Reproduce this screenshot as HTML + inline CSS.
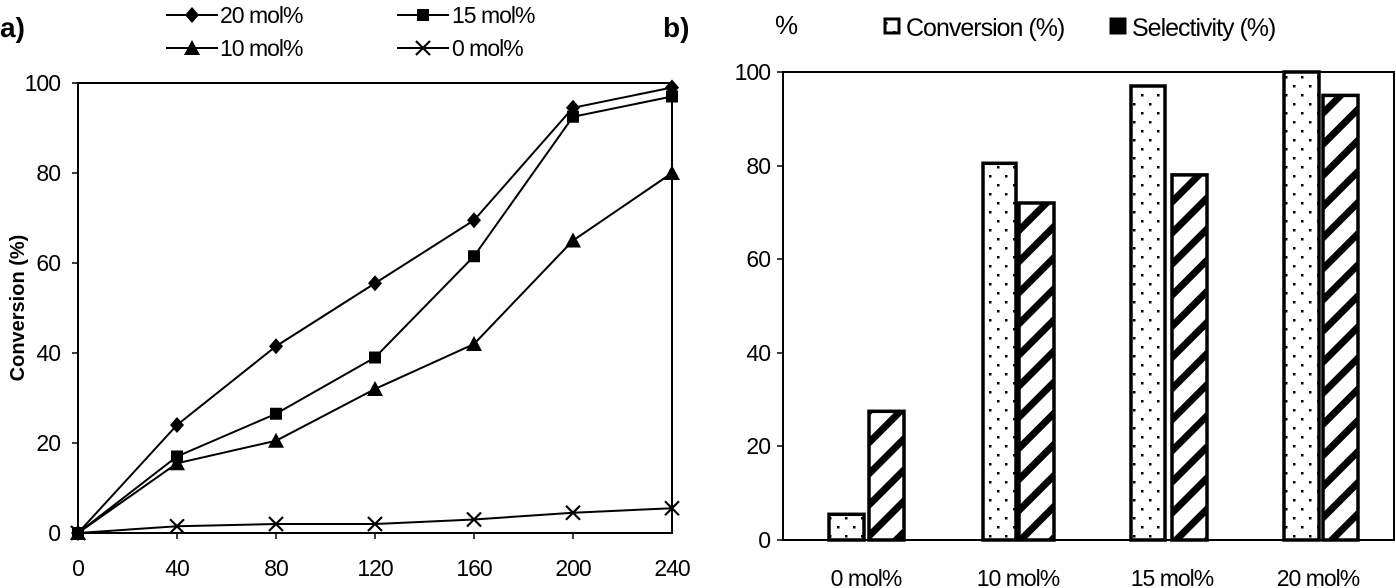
<!DOCTYPE html>
<html><head><meta charset="utf-8"><style>
html,body{margin:0;padding:0;background:#fff}
svg{display:block}
text{font-family:"Liberation Sans Narrow","Liberation Sans",sans-serif;font-size:23px;letter-spacing:-1px;fill:#000}
.b{font-family:"Liberation Sans",sans-serif;font-weight:bold;letter-spacing:0}
</style></head><body>
<svg width="1396" height="588" viewBox="0 0 1396 588" xmlns="http://www.w3.org/2000/svg">
<defs>
<pattern id="dots" width="16" height="18" patternUnits="userSpaceOnUse">
<rect x="5" y="4" width="2.5" height="2.5" fill="#000"/><rect x="13" y="13" width="2.5" height="2.5" fill="#000"/>
</pattern>
<pattern id="hatch" width="22" height="22" patternUnits="userSpaceOnUse" patternTransform="rotate(45)">
<rect x="0" y="0" width="7" height="22" fill="#000"/>
</pattern>
</defs>
<!-- Chart a -->
<text class="b" x="0" y="37" style="font-size:28px">a)</text>
<text class="b" x="663" y="37" style="font-size:28px">b)</text>
<g stroke="#000" stroke-width="2" fill="none">
<rect x="78" y="83" width="594" height="450"/>
</g>
<g stroke="#000" stroke-width="1.5">
<line x1="72" y1="83" x2="78" y2="83"/><line x1="72" y1="173" x2="78" y2="173"/><line x1="72" y1="263" x2="78" y2="263"/>
<line x1="72" y1="353" x2="78" y2="353"/><line x1="72" y1="443" x2="78" y2="443"/><line x1="72" y1="533" x2="78" y2="533"/>
<line x1="177" y1="533" x2="177" y2="539"/><line x1="276" y1="533" x2="276" y2="539"/><line x1="375" y1="533" x2="375" y2="539"/>
<line x1="474" y1="533" x2="474" y2="539"/><line x1="573" y1="533" x2="573" y2="539"/>
</g>
<g text-anchor="end">
<text x="60" y="91">100</text><text x="60" y="181">80</text><text x="60" y="271">60</text>
<text x="60" y="361">40</text><text x="60" y="451">20</text><text x="60" y="541">0</text>
</g>
<g text-anchor="middle">
<text x="78" y="576">0</text><text x="177" y="576">40</text><text x="276" y="576">80</text><text x="375" y="576">120</text>
<text x="474" y="576">160</text><text x="573" y="576">200</text><text x="672" y="576">240</text>
</g>
<text class="b" x="0" y="0" text-anchor="middle" transform="translate(24,308) rotate(-90)" style="font-size:20px">Conversion (%)</text>
<g stroke="#000" stroke-width="2" fill="none">
<polyline points="78,533 177,425 276,346.25 375,283.25 474,220.25 573,107.75 672,87.5"/>
<polyline points="78,533 177,456.5 276,413.75 375,357.5 474,256.25 573,116.75 672,96.5"/>
<polyline points="78,533 177,463.25 276,440.75 375,389 474,344 573,240.5 672,173"/>
<polyline points="78,533 177,526.25 276,524 375,524 474,519.5 573,512.75 672,508.25"/>
</g>
<g id="markers"></g>
<!-- legend a -->
<g stroke="#000" stroke-width="2">
<line x1="166" y1="15" x2="218" y2="15"/><line x1="397" y1="15" x2="449" y2="15"/>
<line x1="166" y1="48" x2="218" y2="48"/><line x1="397" y1="48" x2="449" y2="48"/>
</g>
<g id="legmk"></g>
<text x="220" y="23">20 mol%</text><text x="452" y="23">15 mol%</text>
<text x="220" y="56">10 mol%</text><text x="452" y="56">0 mol%</text>
<!-- Chart b -->
<text x="775" y="34" style="font-size:26px">%</text>
<rect x="885" y="19" width="14" height="14" fill="url(#dots)" stroke="#000" stroke-width="3"/>
<text x="906" y="36" style="font-size:25px">Conversion (%)</text>
<rect x="1111" y="19" width="14" height="14" fill="#000" stroke="#000" stroke-width="3"/>
<text x="1132" y="36" style="font-size:25px">Selectivity (%)</text>
<g stroke="#000" stroke-width="1.5">
<line x1="777" y1="72" x2="783" y2="72"/><line x1="777" y1="166" x2="783" y2="166"/><line x1="777" y1="259" x2="783" y2="259"/>
<line x1="777" y1="353" x2="783" y2="353"/><line x1="777" y1="446" x2="783" y2="446"/><line x1="777" y1="540" x2="783" y2="540"/>
</g>
<g text-anchor="end">
<text x="770" y="80">100</text><text x="770" y="174">80</text><text x="770" y="267">60</text>
<text x="770" y="361">40</text><text x="770" y="454">20</text><text x="770" y="548">0</text>
</g>
<g text-anchor="middle">
<text x="866" y="586">0 mol%</text><text x="1018" y="586">10 mol%</text><text x="1172" y="586">15 mol%</text><text x="1318" y="586">20 mol%</text>
</g>
<g stroke="#000" stroke-width="3.5">
<rect x="829" y="514.3" width="35" height="25.7" fill="url(#dots)"/>
<rect x="869" y="411.3" width="35" height="128.7" fill="url(#hatch)"/>
<rect x="983" y="163.3" width="33" height="376.7" fill="url(#dots)"/>
<rect x="1019" y="203" width="35" height="337" fill="url(#hatch)"/>
<rect x="1131" y="86" width="34" height="454" fill="url(#dots)"/>
<rect x="1172" y="174.9" width="35" height="365.1" fill="url(#hatch)"/>
<rect x="1284" y="72" width="35" height="468" fill="url(#dots)"/>
<rect x="1323" y="95.4" width="35" height="444.6" fill="url(#hatch)"/>
</g>
<g stroke="#000" stroke-width="2" fill="none">
<rect x="783" y="72" width="611" height="468"/>
</g>
</svg>
<script>
(function(){
var NS="http://www.w3.org/2000/svg";
function el(p,t,a){var e=document.createElementNS(NS,t);for(var k in a)e.setAttribute(k,a[k]);p.appendChild(e);return e;}
function mk(g,type,x,y){
 if(type=="d")el(g,"polygon",{points:(x)+","+(y-8)+" "+(x+7)+","+y+" "+x+","+(y+8)+" "+(x-7)+","+y,fill:"#000"});
 else if(type=="s")el(g,"rect",{x:x-6,y:y-6,width:12,height:12,fill:"#000"});
 else if(type=="t")el(g,"polygon",{points:x+","+(y-8)+" "+(x+8)+","+(y+7)+" "+(x-8)+","+(y+7),fill:"#000"});
 else {el(g,"path",{d:"M"+(x-7)+","+(y-7)+"L"+(x+7)+","+(y+7)+"M"+(x+7)+","+(y-7)+"L"+(x-7)+","+(y+7),stroke:"#000","stroke-width":2.2});}
}
var xs=[78,177,276,375,474,573,672];
var S={d:[533,425,346.25,283.25,220.25,107.75,87.5],s:[533,456.5,413.75,357.5,256.25,116.75,96.5],t:[533,463.25,440.75,389,344,240.5,173],x:[533,526.25,524,524,519.5,512.75,508.25]};
var g=document.getElementById("markers");
for(var k in S)for(var i=0;i<7;i++)mk(g,k,xs[i],S[k][i]);
var l=document.getElementById("legmk");
mk(l,"d",192,15);mk(l,"s",423,15);mk(l,"t",192,48);mk(l,"x",423,48);
})();
</script>
</body></html>
